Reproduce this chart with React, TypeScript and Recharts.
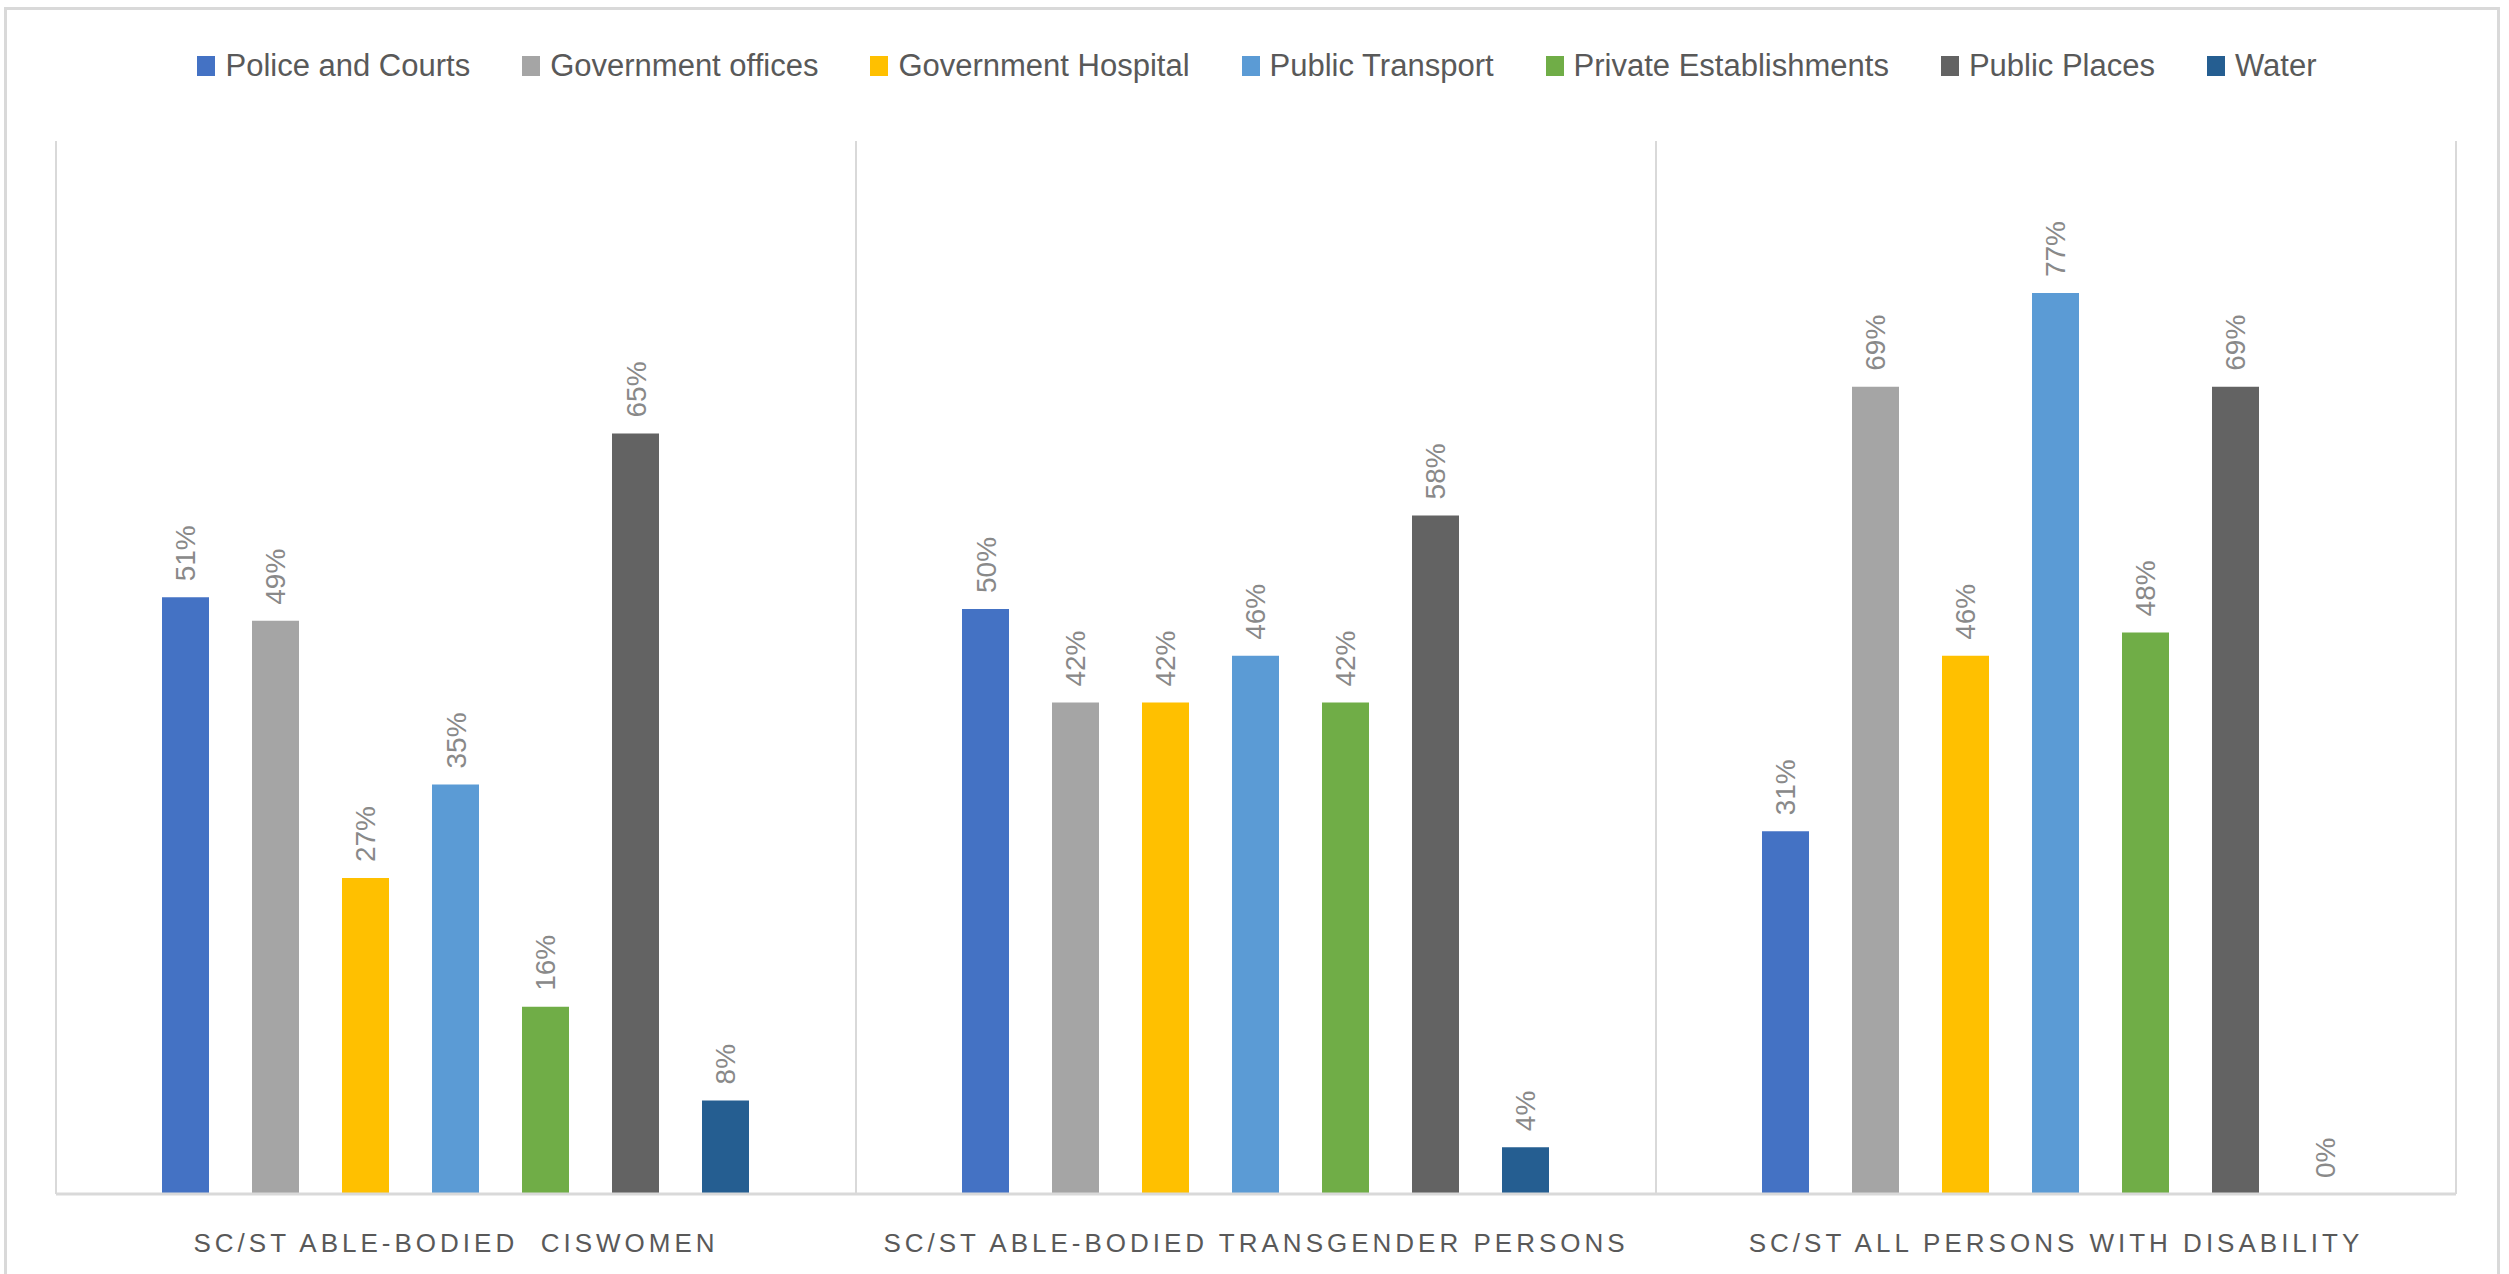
import React from 'react'
import { BarChart, Bar, XAxis, YAxis, CartesianGrid } from 'recharts'

const categories = [
  'SC/ST ABLE-BODIED  CISWOMEN',
  'SC/ST ABLE-BODIED TRANSGENDER PERSONS',
  'SC/ST ALL PERSONS WITH DISABILITY',
]

const policeCourts = [0.51, 0.5, 0.31]
const governmentOffices = [0.49, 0.42, 0.69]
const governmentHospital = [0.27, 0.42, 0.46]
const publicTransport = [0.35, 0.46, 0.77]
const privateEstablishments = [0.16, 0.42, 0.48]
const publicPlaces = [0.65, 0.58, 0.69]
const water = [0.08, 0.04, 0]

const series = [
  { key: 'police', name: 'Police and Courts', color: '#4472C4', values: policeCourts },
  { key: 'govOffices', name: 'Government offices', color: '#A5A5A5', values: governmentOffices },
  { key: 'govHospital', name: 'Government Hospital', color: '#FFC000', values: governmentHospital },
  { key: 'transport', name: 'Public Transport', color: '#5B9BD5', values: publicTransport },
  { key: 'private', name: 'Private Establishments', color: '#70AD47', values: privateEstablishments },
  { key: 'places', name: 'Public Places', color: '#636363', values: publicPlaces },
  { key: 'water', name: 'Water', color: '#255E91', values: water },
]

const data = categories.map((cat, i) => {
  const row: any = { category: cat }
  series.forEach((s) => {
    row[s.key] = s.values[i]
  })
  return row
})

const FONT = '"Liberation Sans", Arial, sans-serif'

function CategoryTick({ x, y, payload }: any) {
  return (
    <text
      x={x}
      y={y + 50}
      textAnchor="middle"
      fill="#595959"
      fontSize={26}
      fontFamily={FONT}
      letterSpacing={4}
      style={{ whiteSpace: 'pre' }}
    >
      {payload.value}
    </text>
  )
}

function ValueLabel({ x, y, width, value }: any) {
  const cx = Number(x) + Number(width) / 2 + 10
  const cy = Number(y) - 16
  return (
    <text
      x={cx}
      y={cy}
      transform={`rotate(-90, ${cx}, ${cy})`}
      textAnchor="start"
      fill="#898989"
      fontSize={28}
      fontFamily={FONT}
    >
      {Math.round(Number(value) * 100)}%
    </text>
  )
}

function LegendRow() {
  return (
    <div
      style={{
        position: 'absolute',
        top: 38,
        left: 0,
        width: '100%',
        display: 'flex',
        justifyContent: 'center',
        gap: 52,
        fontFamily: FONT,
        fontSize: 31,
        color: '#595959',
        paddingLeft: 10,
        boxSizing: 'border-box',
      }}
    >
      {series.map((s) => (
        <div key={s.key} style={{ display: 'flex', alignItems: 'center' }}>
          <span style={{ width: 18, height: 20, background: s.color, marginRight: 10, display: 'inline-block' }} />
          <span>{s.name}</span>
        </div>
      ))}
    </div>
  )
}

export default function App() {
  return (
    <div
      style={{
        position: 'absolute',
        left: 4,
        top: 7,
        width: 2496,
        height: 1290,
        border: '3px solid #d9d9d9',
        boxSizing: 'border-box',
        background: '#fff',
      }}
    >
      <LegendRow />
      <BarChart
        width={2490}
        height={1280}
        data={data}
        margin={{ top: 131, right: 41, left: 49, bottom: 26 }}
        barCategoryGap={106}
        barGap={43}
      >
        <CartesianGrid
          horizontal={false}
          stroke="#d9d9d9"
          strokeWidth={2}
          verticalCoordinatesGenerator={({ offset }: any) => [0, 1, 2, 3].map((i) => offset.left + (offset.width * i) / 3)}
        />
        <YAxis hide domain={[0, 0.9]} />
        {series.map((s) => (
          <Bar
            key={s.key}
            dataKey={s.key}
            name={s.name}
            fill={s.color}
            isAnimationActive={false}
            minPointSize={0.01}
            label={<ValueLabel />}
          />
        ))}
        <XAxis
          dataKey="category"
          axisLine={{ stroke: '#d9d9d9', strokeWidth: 3 }}
          tickLine={false}
          tick={<CategoryTick />}
          height={70}
          interval={0}
        />
      </BarChart>
    </div>
  )
}
